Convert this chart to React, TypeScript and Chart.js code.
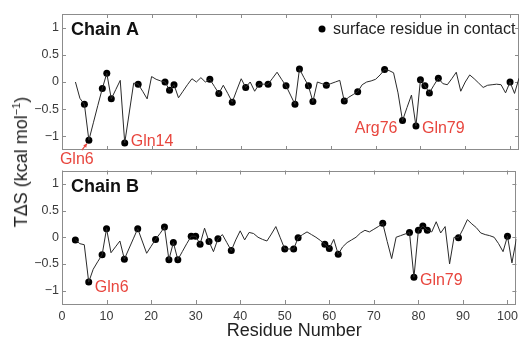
import React, { useEffect, useRef } from "react";
import { Chart, registerables } from "chart.js";
Chart.register(...registerables);

const residues = [
  3, 4, 5, 6, 7, 8, 9, 10, 11, 12, 13, 14, 15, 16, 17, 18, 19, 20, 21, 22,
  23, 24, 25, 26, 27, 28, 29, 30, 31, 32, 33, 34, 35, 36, 37, 38, 39, 40, 41, 42,
  43, 44, 45, 46, 47, 48, 49, 50, 51, 52, 53, 54, 55, 56, 57, 58, 59, 60, 61, 62,
  63, 64, 65, 66, 67, 68, 69, 70, 71, 72, 73, 74, 75, 76, 77, 78, 79, 80, 81, 82,
  83, 84, 85, 86, 87, 88, 89, 90, 91, 92, 93, 94, 95, 96, 97, 98, 99, 100, 101, 102,
];

const chainA = [
  0.0, -0.3, -0.41, -1.07, -0.75, -0.43, -0.12, 0.16, -0.31, -0.14,
  0.03, -1.12, -0.57, -0.02, -0.04, -0.17, -0.31, 0.1, 0.05, 0.02,
  0.0, -0.15, -0.05, -0.29, -0.17, -0.05, 0.06, 0.0, 0.08, 0.0,
  0.05, -0.08, -0.21, -0.06, -0.21, -0.37, -0.15, 0.06, -0.1, 0.0,
  -0.17, -0.04, -0.04, -0.04, 0.07, 0.18, 0.05, -0.07, -0.24, -0.41,
  0.24, 0.08, -0.07, -0.36, 0.0, -0.03, -0.06, -0.03, 0.0, 0.03,
  -0.35, -0.28, -0.23, -0.18, -0.05, 0.0, 0.02, 0.05, 0.13, 0.23,
  0.21, 0.17, -0.2, -0.71, -0.47, -0.24, -0.81, 0.04, -0.07, -0.2,
  -0.06, 0.07, -0.03, -0.05, 0.06, 0.18, -0.17, 0.0, 0.13, 0.06,
  -0.02, -0.1, -0.06, -0.05, -0.04, -0.05, -0.2, 0.0, -0.21, 0.07,
];

const chainB = [
  -0.05, -0.12, -0.14, -0.84, -0.6, -0.46, -0.33, 0.16, -0.29, -0.18,
  -0.07, -0.41, -0.22, -0.03, 0.16, -0.07, -0.3, -0.17, -0.04, 0.07,
  0.19, -0.42, -0.1, -0.42, -0.27, -0.12, 0.02, 0.02, -0.13, 0.17,
  -0.08, -0.27, -0.03, 0.05, -0.1, -0.25, -0.05, 0.12, -0.05, 0.09,
  0.07, 0.0, -0.04, -0.07, 0.06, 0.2, -0.01, -0.22, -0.22, -0.22,
  -0.01, 0.05, 0.1, 0.05, 0.0, -0.06, -0.13, -0.21, -0.04, -0.32,
  -0.18, -0.1, -0.05, 0.0, 0.08, 0.13, 0.1, 0.15, 0.2, 0.26,
  -0.08, -0.4, 0.0, 0.03, 0.06, 0.09, -0.75, 0.13, 0.21, 0.13,
  0.1, 0.29, 0.08, 0.2, -0.5, 0.0, -0.01, 0.15, 0.33, 0.25,
  0.18, 0.08, 0.05, 0.03, 0.0, -0.12, -0.27, 0.02, -0.48, -0.03,
];

const surfaceA = [5, 6, 9, 10, 11, 14, 17, 23, 24, 25, 33, 35, 38, 41, 44, 46, 50, 52, 53, 55, 56, 59, 63, 66, 72, 76, 79, 80, 81, 82, 84, 100];
const surfaceB = [3, 6, 9, 10, 14, 17, 21, 23, 24, 25, 26, 29, 30, 31, 33, 35, 38, 50, 52, 53, 59, 60, 62, 72, 78, 79, 80, 81, 82, 89, 100];

const yTickValues = [-1, -0.5, 0, 0.5, 1];
const yTickLabels = ["\u22121", "\u22120.5", "0", "0.5", "1"];
const xTickValues = [0, 10, 20, 30, 40, 50, 60, 70, 80, 90, 100];
const xTickLabels = ["0", "10", "20", "30", "40", "50", "60", "70", "80", "90", "100"];

const annotResA = [6, 14, 76, 79];
const annotTextA = ["Gln6", "Gln14", "Arg76", "Gln79"];
const annotResB = [6, 79];
const annotTextB = ["Gln6", "Gln79"];

const FONT = "'Liberation Sans', Arial, Helvetica, sans-serif";
const RED = "#e8463e";
const FRAME = "#8c8c8c";

// label offsets (style)
const offA: Record<string, { dx: number; dy: number; align: CanvasTextAlign; arrow?: boolean }> = {
  Gln6: { dx: -29, dy: 24, align: "left", arrow: true },
  Gln14: { dx: 6, dy: 3, align: "left" },
  Arg76: { dx: -5, dy: 12, align: "right" },
  Gln79: { dx: 6, dy: 7, align: "left" },
};
const offB: Record<string, { dx: number; dy: number; align: CanvasTextAlign }> = {
  Gln6: { dx: 6, dy: 10, align: "left" },
  Gln79: { dx: 6, dy: 8, align: "left" },
};

function valueAt(vals: number[], r: number) {
  return vals[residues.indexOf(r)];
}

function makeChart(
  canvas: HTMLCanvasElement,
  vals: number[],
  surface: number[],
  title: string,
  showX: boolean,
  annRes: number[],
  annText: string[],
  offs: Record<string, any>,
  showLegend: boolean
) {
  const framePlugin = {
    id: "frame" + title.replace(" ", ""),
    beforeDatasetsDraw(chart: any) {
      const { ctx, chartArea: a, scales } = chart;
      ctx.save();
      ctx.strokeStyle = FRAME;
      ctx.lineWidth = 1;
      ctx.strokeRect(Math.round(a.left) + 0.5, Math.round(a.top) + 0.5, Math.round(a.right - a.left) - 1, Math.round(a.bottom - a.top) - 1);
      const tl = 4;
      ctx.beginPath();
      xTickValues.forEach((v) => {
        const px = Math.round(scales.x.getPixelForValue(v)) + 0.5;
        ctx.moveTo(px, a.top);
        ctx.lineTo(px, a.top + tl);
        ctx.moveTo(px, a.bottom);
        ctx.lineTo(px, a.bottom - tl);
      });
      yTickValues.forEach((v) => {
        const py = Math.round(scales.y.getPixelForValue(v)) + 0.5;
        ctx.moveTo(a.left, py);
        ctx.lineTo(a.left + tl, py);
        ctx.moveTo(a.right, py);
        ctx.lineTo(a.right - tl, py);
      });
      ctx.stroke();
      ctx.restore();
    },
    afterDraw(chart: any) {
      const { ctx, chartArea: a, scales } = chart;
      ctx.save();
      ctx.fillStyle = "#111";
      ctx.font = "bold 18px " + FONT;
      ctx.textAlign = "left";
      ctx.textBaseline = "alphabetic";
      ctx.fillText(title, a.left + 9, a.top + 21);

      if (showLegend) {
        ctx.beginPath();
        ctx.arc(a.right - 197, a.top + 15, 3.5, 0, Math.PI * 2);
        ctx.fillStyle = "#000";
        ctx.fill();
        ctx.font = "16px " + FONT;
        ctx.fillStyle = "#222";
        ctx.fillText("surface residue in contact", a.right - 186, a.top + 20);
      }

      ctx.font = "16px " + FONT;
      ctx.fillStyle = RED;
      annRes.forEach((r, i) => {
        const t = annText[i];
        const o = offs[t];
        const px = scales.x.getPixelForValue(r);
        const py = scales.y.getPixelForValue(valueAt(vals, r));
        ctx.textAlign = o.align;
        ctx.fillText(t, px + o.dx, py + o.dy);
        if (o.arrow) {
          const x0 = px - 7, y0 = py + 10, x1 = px - 2, y1 = py + 3.5;
          ctx.strokeStyle = RED;
          ctx.lineWidth = 1.2;
          ctx.beginPath();
          ctx.moveTo(x0, y0);
          ctx.lineTo(x1, y1);
          ctx.stroke();
          const ang = Math.atan2(y1 - y0, x1 - x0);
          ctx.beginPath();
          ctx.moveTo(x1, y1);
          ctx.lineTo(x1 - 4 * Math.cos(ang - 0.5), y1 - 4 * Math.sin(ang - 0.5));
          ctx.lineTo(x1 - 4 * Math.cos(ang + 0.5), y1 - 4 * Math.sin(ang + 0.5));
          ctx.closePath();
          ctx.fill();
        }
      });

      if (showX) {
        ctx.font = "18px " + FONT;
        ctx.fillStyle = "#222";
        ctx.textAlign = "center";
        ctx.fillText("Residue Number", (a.left + a.right) / 2 + 5, a.bottom + 32);
      }
      ctx.restore();
    },
  };

  return new Chart(canvas, {
    type: "scatter",
    data: {
      datasets: [
        {
          data: residues.map((r, i) => ({ x: r, y: vals[i] })),
          showLine: true,
          borderColor: "#2a2a2a",
          borderWidth: 1,
          pointRadius: 0,
          tension: 0,
        },
        {
          data: surface.map((r) => ({ x: r, y: valueAt(vals, r) })),
          showLine: false,
          pointRadius: 3.5,
          pointBackgroundColor: "#000",
          pointBorderColor: "#000",
          pointBorderWidth: 0,
        },
      ],
    },
    options: {
      responsive: false,
      animation: false,
      events: [],
      layout: { padding: showX ? { left: 0, right: 3, top: 8, bottom: 0 } : { left: 0, right: 3, top: 14, bottom: 18 } },
      plugins: { legend: { display: false }, tooltip: { enabled: false } },
      scales: {
        x: {
          type: "linear",
          min: 0,
          max: 102,
          display: showX,
          grid: { display: false, drawTicks: false },
          border: { display: false },
          ticks: {
            padding: 5,
            color: "#3a3a3a",
            font: { size: 12.5, family: FONT },
            callback: (v: any) => {
              const i = xTickValues.indexOf(v);
              return i >= 0 ? xTickLabels[i] : "";
            },
          },
          afterBuildTicks: (s: any) => {
            s.ticks = xTickValues.map((v) => ({ value: v }));
          },
          afterFit: (s: any) => {
            s.height = showX ? 36 : 0;
          },
        },
        y: {
          type: "linear",
          min: -1.25,
          max: 1.25,
          grid: { display: false, drawTicks: false },
          border: { display: false },
          ticks: {
            padding: 3,
            color: "#3a3a3a",
            font: { size: 12.5, family: FONT },
            callback: (v: any) => {
              const i = yTickValues.indexOf(v);
              return i >= 0 ? yTickLabels[i] : "";
            },
          },
          afterBuildTicks: (s: any) => {
            s.ticks = yTickValues.map((v) => ({ value: v }));
          },
          afterFit: (s: any) => {
            s.width = 62;
          },
        },
      },
    },
    plugins: [framePlugin],
  } as any);
}

export default function App() {
  const refA = useRef<HTMLCanvasElement>(null);
  const refB = useRef<HTMLCanvasElement>(null);

  useEffect(() => {
    Chart.defaults.font.family = FONT;
    const cA = makeChart(refA.current!, chainA, surfaceA, "Chain A", false, annotResA, annotTextA, offA, true);
    const cB = makeChart(refB.current!, chainB, surfaceB, "Chain B", true, annotResB, annotTextB, offB, false);
    return () => {
      cA.destroy();
      cB.destroy();
    };
  }, []);

  return (
    <div style={{ position: "absolute", left: 0, top: 0, width: 523, height: 340, background: "#fff", overflow: "hidden" }}>
      <canvas ref={refA} width={523} height={168} style={{ position: "absolute", left: 0, top: 0 }} />
      <canvas ref={refB} width={523} height={180} style={{ position: "absolute", left: 0, top: 160 }} />
      <div
        style={{
          position: "absolute",
          left: 21,
          top: 162,
          transform: "translate(-50%, -50%) rotate(-90deg)",
          whiteSpace: "nowrap",
          fontFamily: FONT,
          fontSize: 18,
          color: "#222",
          lineHeight: "20px",
        }}
      >
        T&Delta;S (kcal mol<sup style={{ fontSize: 11, lineHeight: 0 }}>&minus;1</sup>)
      </div>
    </div>
  );
}
